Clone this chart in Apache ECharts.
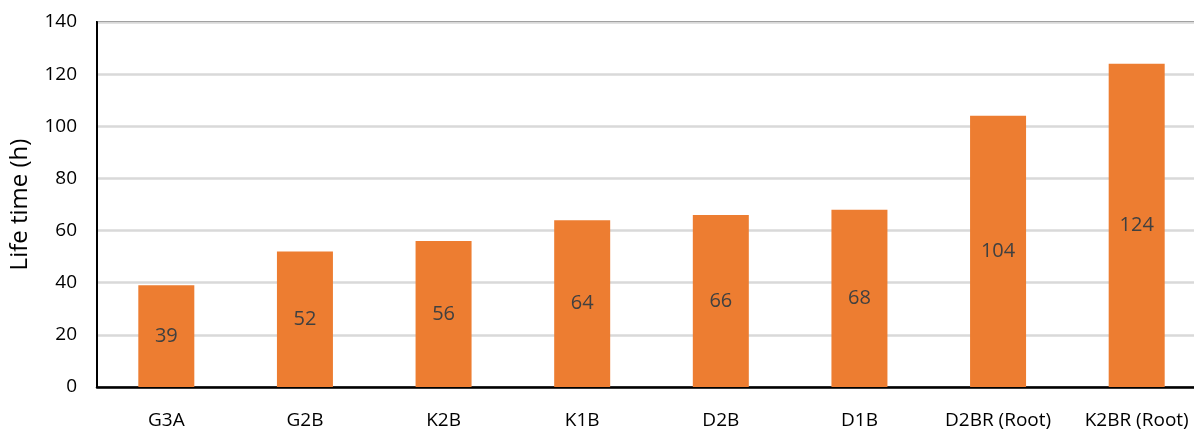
<!DOCTYPE html>
<html><head><meta charset="utf-8">
<script src="https://cdn.jsdelivr.net/npm/echarts@6/dist/echarts.min.js"></script>
<style>html,body{margin:0;padding:0;background:#fff;overflow:hidden;width:1194px;height:430px}#c{width:1206px;height:430px}</style>
</head><body><div id="c"></div>
<script>
const categories = ["G3A","G2B","K2B","K1B","D2B","D1B","D2BR (Root)","K2BR (Root)"];
const lifeTime = [39,52,56,64,66,68,104,124];
const yTicks = {min:0, max:140, interval:20};
const font = "'Open Sans', 'Noto Sans', sans-serif";
const chart = echarts.init(document.getElementById('c'));
chart.setOption({
  animation:false,
  grid:{left:97, right:0, top:22, bottom:43, show:true, borderColor:'#000', borderWidth:2, containLabel:false},
  xAxis:{type:'category', data:categories,
    axisLine:{show:true, lineStyle:{color:'#000', width:2.5}},
    axisTick:{show:false},
    axisLabel:{color:'#000', fontSize:19, fontFamily:font, margin:24, interval:0, hideOverlap:false}},
  yAxis:{type:'value', min:yTicks.min, max:yTicks.max, interval:yTicks.interval,
    name:'Life time (h)', nameLocation:'middle', nameGap:65,
    nameTextStyle:{color:'#000', fontSize:24, fontFamily:font},
    axisLine:{show:true, lineStyle:{color:'#000', width:2}},
    axisTick:{show:false},
    axisLabel:{color:'#000', fontSize:19, fontFamily:font, margin:20},
    splitLine:{show:true, lineStyle:{color:'#d9d9d9', width:2.5}}},
  series:[{type:'bar', data:lifeTime, barWidth:56,
    itemStyle:{color:'#ED7D31'},
    label:{show:true, position:'inside', color:'#404040', fontSize:20, fontFamily:font}}]
});
</script></body></html>
